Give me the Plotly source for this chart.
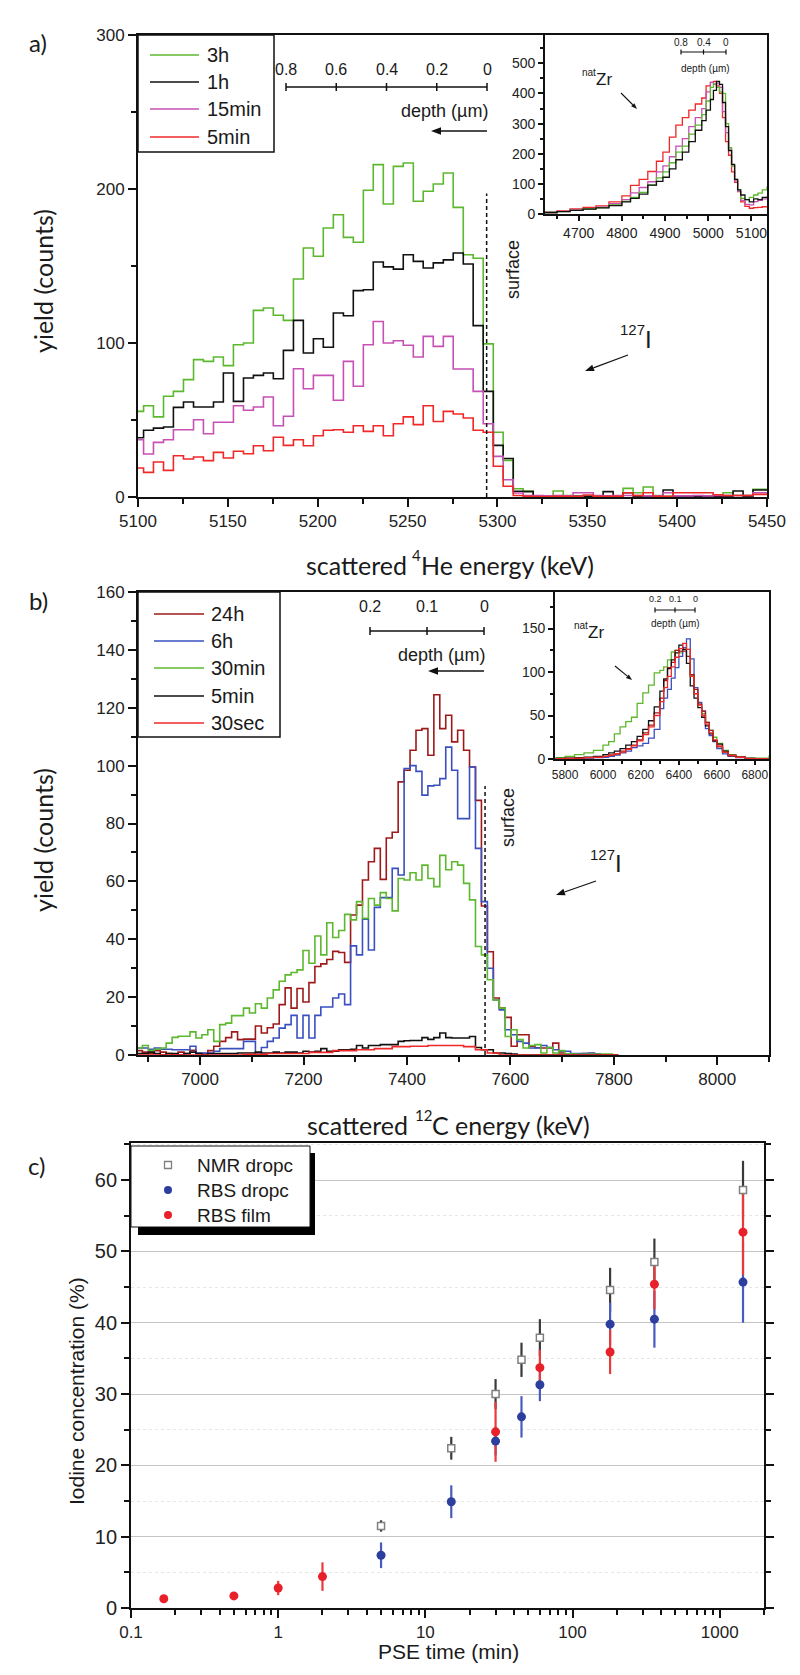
import math
import plotly.graph_objects as go

W, H = 800, 1675

# ---------------- panel a : scattered 4He spectra ----------------
a_energy = [5097.5, 5103.1, 5108.6, 5114.2, 5119.7, 5125.3, 5130.9, 5136.4, 5142.0, 5147.5,
            5153.1, 5158.7, 5164.2, 5169.8, 5175.3, 5180.9, 5186.5, 5192.0, 5197.6, 5203.1,
            5208.7, 5214.3, 5219.8, 5225.4, 5230.9, 5236.5, 5242.1, 5247.6, 5253.2, 5258.7,
            5264.3, 5269.9, 5275.4, 5281.0, 5286.5, 5292.1, 5297.7, 5303.2, 5308.8, 5314.3,
            5319.9, 5325.5, 5331.0, 5336.6, 5342.1, 5347.7, 5353.3, 5358.8, 5364.4, 5369.9,
            5375.5, 5381.1, 5386.6, 5392.2, 5397.7, 5403.3, 5408.9, 5414.4, 5420.0, 5425.5,
            5431.1, 5436.7, 5442.2, 5447.8, 5453.3]
a_3h = [55.6, 59.3, 52, 65.4, 68.6, 76.2, 89.2, 88.1, 90.9, 85.3,
        98.9, 100, 121.2, 122.7, 118, 114.7, 141.6, 161.7, 156.3, 174.7,
        183.3, 168.6, 165.4, 199.2, 215.8, 190.3, 214.7, 216.9, 192, 198.5,
        203.2, 210.4, 188.1, 157.3, 155, 99.4, 42, 23.8, 5.4,
        3.9, 0.6, 0.6, 3.9, 1, 0.5, 0.5, 0.5, 0.5, 0.5, 5.6, 2.8, 6.5, 1,
        0.5, 0.5, 0.5, 0.5, 0.5, 0.5, 2.8, 1, 1, 5, 5, 5]
a_1h = [38.5, 43.3, 44.7, 45.5, 58.2, 61.7, 58.4, 58.4, 61.7, 80.5,
        62.1, 77.3, 79, 80.5, 76.8, 95.2, 114.7, 93.5, 102.8, 97.2,
        119.5, 117.7, 134, 134.6, 152.6, 149.4, 148, 157.3, 153, 148.7,
        152, 154, 158.4, 151.3, 111.3, 68.6, 33.5, 25, 3.7,
        3.5, 0.5, 0.5, 0.5, 0.5, 0.5, 0.5, 0.5, 3.5, 0.5, 2.8, 0.5, 0.5,
        0.5, 4.5, 0.5, 0.5, 0.5, 0.5, 0.5, 0.5, 3.9, 0.5, 4.5, 4.5, 4.5]
a_15min = [37.2, 27.9, 35.5, 37.2, 43.7, 43.7, 50.2, 41.1, 48.5, 48.5,
           59.3, 56.3, 58.4, 64.9, 46.3, 52.4, 83.3, 70.3, 79, 79,
           62.8, 88.1, 71.9, 98.9, 114, 100, 101.5, 98.5, 90.9, 104.3,
           97.8, 104.3, 83.1, 83.1, 68.6, 47.6, 26.4, 11.2, 2.6,
           1, 1, 0.7, 1, 0.7, 2.8, 2.8, 1, 0.7, 1, 1, 1, 0.7,
           0.7, 2.8, 0.7, 0.7, 1, 0.7, 1, 1, 1, 1, 2.8, 2.8, 2.8]
a_5min = [18.8, 16, 22.7, 17.3, 26.8, 24.7, 26, 23.6, 29, 25.3,
          29.7, 28.1, 33.3, 30, 38.8, 33.5, 37.2, 33.3, 39.8, 43.3,
          43.7, 42, 46.3, 42.6, 46.3, 39.8, 47.6, 52, 47, 59.3,
          49, 55.6, 53.9, 51.3, 43.3, 42, 20, 7, 1,
          0.5, 0.3, 0.3, 0.5, 0.5, 0.5, 1.3, 0.5, 0.5, 0.5, 2.8, 1, 2.8,
          0.5, 0.5, 2.8, 2.8, 2.8, 2.8, 1.5, 1, 1, 1, 1.7, 1.7, 1.7]
a_surface = 5294

# inset a : natZr signal
ai_energy = [4622, 4650, 4680, 4710, 4740, 4770, 4800, 4820, 4840, 4860, 4880, 4895,
             4910, 4925, 4940, 4955, 4970, 4985, 4995, 5005, 5012, 5019, 5026, 5033,
             5040, 5047, 5054, 5061, 5068, 5075, 5085, 5095, 5105, 5115, 5125, 5136]
ai_5min = [5, 10, 17, 22, 27, 40, 60, 95, 115, 141, 175, 205, 255, 295, 320, 345, 365, 385,
           425, 437, 440, 425, 400, 320, 240, 195, 140, 105, 74, 40, 25, 19, 21, 22, 24, 25]
ai_15min = [5, 9, 14, 18, 23, 34, 48, 70, 88, 107, 140, 160, 190, 225, 250, 290, 320, 350,
            405, 437, 430, 434, 420, 340, 270, 215, 160, 110, 75, 45, 32, 30, 41, 45, 50, 52]
ai_3h = [5, 8, 12, 17, 21, 30, 42, 55, 72, 96, 120, 140, 170, 205, 225, 265, 295, 330,
         375, 420, 432, 420, 405, 400, 300, 220, 160, 115, 80, 52, 48, 55, 63, 69, 80, 91]
ai_1h = [5, 8, 12, 16, 20, 28, 40, 52, 66, 96, 108, 122, 150, 180, 205, 240, 278, 310,
         345, 380, 410, 440, 430, 370, 290, 210, 165, 115, 80, 63, 48, 40, 50, 48, 55, 58]

# ---------------- panel b : scattered 12C spectra ----------------
b_energy = [6877.0, 6888.5, 6900.0, 6911.5, 6923.0, 6934.5, 6946.0, 6957.5, 6969.0, 6980.5,
            6992.0, 7003.5, 7015.0, 7026.5, 7038.0, 7049.5, 7061.0, 7072.5, 7084.0, 7095.5,
            7107.0, 7118.5, 7130.0, 7141.5, 7153.0, 7164.5, 7176.0, 7187.5, 7199.0, 7210.5,
            7222.0, 7233.5, 7245.0, 7256.5, 7268.0, 7279.5, 7291.0, 7302.5, 7314.0, 7325.5,
            7337.0, 7348.5, 7360.0, 7371.5, 7383.0, 7394.5, 7406.0, 7417.5, 7429.0, 7440.5,
            7452.0, 7463.5, 7475.0, 7486.5, 7498.0, 7509.5, 7521.0, 7532.5, 7544.0, 7555.5,
            7567.0, 7578.5, 7590.0, 7601.5, 7613.0, 7624.5, 7636.0, 7647.5, 7659.0, 7670.5,
            7682.0, 7693.5, 7705.0, 7716.5, 7728.0, 7739.5, 7751.0, 7762.5, 7774.0, 7785.5,
            7797.0, 7808.5]
b_24h = [1.5, 1, 0.5, 1.5, 1, 0.5, 0, 1, 0.5, 1.6,
         0.5, 0.5, 1.5, 3, 4.7, 6, 8, 5.3, 5.5, 5.5,
         10, 7.6, 9.4, 10.7, 17.4, 23.2, 16.2, 23, 18.3, 25,
         30.6, 31.5, 33, 35.8, 35.4, 32, 48.4, 51.8, 60.5, 66.8,
         71.4, 60.7, 75, 77, 94.4, 98.4, 105.3, 112.2, 112.8, 103.6,
         124.5, 112.8, 117.4, 108.2, 112.2, 105.3, 99.5, 88, 51.5, 35.7,
         19.7, 16.2, 13, 3, 7, 7, 3, 2.5, 2.4, 2.4,
         4.1, 0.7, 0.3, 0.3, 0, 0.5, 0.5, 0.3, 0, 0, 0, 0]
b_6h = [2.4, 2.4, 2, 2.4, 2, 2, 1.8, 1.8, 1.8, 3,
        0.7, 0.7, 0.7, 1.3, 2.2, 2.2, 2.2, 2.2, 4.7, 4.7,
        0.7, 2.6, 4.7, 5.9, 9.3, 10.5, 13.7, 5.9, 13.7, 5.9,
        13.7, 16.6, 16.6, 19.7, 21.1, 17.4, 37.7, 34.6, 46.9, 36.3,
        51, 54.4, 54.4, 64.5, 62.2, 99, 100, 98, 89.8, 93,
        93.2, 95.5, 106.4, 98.4, 81.7, 81.7, 99.5, 71.4, 53, 30,
        19, 15.6, 8.7, 7, 4.7, 4.1, 2.4, 2.4, 3.3, 2.6,
        1.8, 1.3, 1.3, 0.5, 0.5, 0.5, 0.7, 0.3, 0, 0, 0, 0]
b_30min = [2.4, 3.3, 1.5, 2, 2.4, 4.1, 6.1, 6.5, 6.5, 8,
           5.9, 7, 8.7, 4.7, 10.5, 11, 13.6, 13.6, 16.2, 14.5,
           17.7, 16.2, 19.7, 22.5, 25.5, 27.7, 28.5, 29.4, 36.1, 31.7,
           41.1, 34.6, 45.7, 40.6, 43, 48.6, 46.7, 53, 47.2, 54.1,
           51.8, 56.1, 54.1, 49.8, 61, 60.5, 63, 60.5, 65.6, 61,
           58.2, 69, 64, 66.8, 65.6, 59.3, 53.6, 37.5, 34.6, 26,
           19, 16.2, 6.4, 8.7, 5.3, 2.4, 3.3, 3.6, 0.7, 2.6,
           0.7, 1.5, 0.4, 0.3, 0.2, 0.2, 0.3, 0.2, 0.3, 0.3, 0, 0]
b_5min = [0.5, 0.5, 1, 0.5, 0, 0.5, 0.5, 0, 0.5, 1,
          0.5, 0, 0.5, 0.5, 0.5, 0.5, 0.5, 0.7, 0.7, 0.7,
          1, 0.7, 0.7, 1, 0.7, 1, 1, 0.7, 1.3, 1,
          1.3, 2.2, 1.3, 1.3, 1.8, 1.8, 2, 3.3, 2.4, 3.3,
          3.3, 3.6, 3.6, 3.6, 4.7, 4.9, 5, 5, 6, 5.4,
          6, 7.6, 6, 5.9, 5.9, 5.9, 6.4, 2.6, 1.8, 1.8,
          0.7, 0.7, 0.5, 0.3, 0, 0, 0, 0, 0, 0,
          0, 0, 0, 0, 0, 0, 0, 0, 0, 0, 0, 0]
b_30sec = [0, 0, 0, 0, 0, 0, 0, 0, 0, 0,
           0, 0, 0, 0, 0, 0, 0, 0, 0.2, 0.2,
           0.2, 0.2, 0.5, 0.5, 0.5, 0.5, 0.5, 0.5, 0.5, 0.9,
           0.9, 0.9, 0.9, 1.5, 1.5, 1.5, 1.5, 1.8, 1.8, 1.8,
           2.2, 2.2, 2.2, 2.9, 2.9, 2.9, 3, 3, 3, 3.3,
           3.3, 3.3, 3.3, 3.3, 3.3, 2.9, 2.9, 1.8, 1.8, 0.7,
           0.7, 0, 0, 0, 0, 0, 0, 0, 0, 0,
           0, 0, 0, 0, 0, 0, 0, 0, 0, 0, 0, 0]
b_surface = 7551

# inset b : natZr signal
bi_energy = [5750, 5800, 5850, 5900, 5950, 6000, 6030, 6060, 6090, 6120, 6150, 6180, 6210,
             6240, 6270, 6300, 6320, 6340, 6360, 6380, 6400, 6420, 6440, 6460, 6480, 6500,
             6520, 6540, 6560, 6580, 6600, 6630, 6660, 6700, 6750, 6800, 6875]
bi_24h = [0.5, 0.7, 1, 1.5, 2, 3, 4.5, 6, 9, 12, 16, 22, 30, 39, 53, 70, 90, 105, 111,
          125, 124, 124, 118, 97, 80, 63, 55, 42, 33, 21, 14, 8, 4, 2, 0.7, 0.3, 0.3]
bi_6h = [0.5, 0.5, 0.8, 1, 1.5, 2, 3, 4.6, 7, 9, 13, 15, 18, 24, 34, 58, 70, 80, 93,
         105, 118, 128, 138, 115, 82, 65, 55, 35, 27, 20, 12, 6, 3, 1.5, 0.5, 0.3, 0.3]
bi_30min = [1.5, 3, 5, 7, 10, 16, 20, 29, 37, 43, 48, 64, 76, 85, 99, 102, 106, 114, 123,
            125, 122, 128, 126, 96, 75, 63, 52, 42, 33, 25, 18, 10, 5, 2.5, 1, 1, 4]
bi_5min = [0.8, 1, 1.5, 2, 3, 5, 7, 9, 12, 16, 20, 26, 34, 44, 60, 78, 92, 104, 114,
           122, 131, 126, 110, 84, 70, 59, 48, 38, 29, 21, 17, 9, 4, 2, 0.8, 0.5, 0.5]
bi_30sec = [0.5, 0.7, 1, 1.5, 2, 3, 4.6, 6, 8, 11, 15, 21, 28, 37, 50, 66, 82, 95, 106,
            117, 127, 133, 126, 95, 75, 62, 50, 40, 30, 22, 15, 8, 4, 2, 0.5, 0.3, 0.3]

# ---------------- panel c : iodine concentration ----------------
c_time = [5, 15, 30, 45, 60, 180, 360, 1440]
c_nmr = [11.5, 22.4, 30.0, 34.8, 37.9, 44.6, 48.5, 58.6]
c_nmr_err = [0.8, 1.6, 2.1, 2.4, 2.6, 3.1, 3.3, 4.1]
c_rbs_drop = [7.4, 14.9, 23.4, 26.8, 31.3, 39.8, 40.5, 45.7]
c_rbs_drop_err = [1.8, 2.3, 2.0, 2.9, 2.3, 3.0, 4.0, 5.7]
c_film_time = [0.167, 0.5, 1, 2, 30, 60, 180, 360, 1440]
c_rbs_film = [1.3, 1.7, 2.8, 4.4, 24.7, 33.7, 35.9, 45.4, 52.7]
c_rbs_film_err = [0.3, 0.3, 1.0, 2.0, 4.2, 2.5, 3.1, 3.5, 6.0]

GREEN, BLACK, MAGENTA, RED = '#5cb82e', '#111111', '#c650b4', '#f02828'
DARKRED, BLUE = '#9e1a1a', '#3a4fc0'
TICKF = 'Liberation Sans, Arial, sans-serif'
TITLEF = 'Lato, Liberation Sans, sans-serif'


def px(x):
    return x / W


def py(y):
    return 1 - y / H


fig = go.Figure()


def spectrum(x, y, color, xa, ya, width=1.6):
    fig.add_trace(go.Scatter(x=x, y=y, mode='lines', xaxis=xa, yaxis=ya,
                             line=dict(shape='hv', color=color, width=width),
                             showlegend=False, hoverinfo='skip'))


for ys, col in [(a_3h, GREEN), (a_1h, BLACK), (a_15min, MAGENTA), (a_5min, RED)]:
    spectrum(a_energy, ys, col, 'x', 'y')
for ys, col in [(ai_5min, RED), (ai_15min, MAGENTA), (ai_3h, GREEN), (ai_1h, BLACK)]:
    spectrum(ai_energy, ys, col, 'x2', 'y2', 1.3)
for ys, col in [(b_24h, DARKRED), (b_6h, BLUE), (b_30min, GREEN), (b_5min, BLACK), (b_30sec, RED)]:
    spectrum(b_energy, ys, col, 'x3', 'y3')
for ys, col in [(bi_30min, GREEN), (bi_6h, BLUE), (bi_24h, DARKRED), (bi_5min, BLACK), (bi_30sec, RED)]:
    spectrum(bi_energy, ys, col, 'x4', 'y4', 1.3)

# panel c: error bars first, markers on top
c_series = [
    (c_time, c_nmr, c_nmr_err, '#3a3a3a'),
    (c_time, c_rbs_drop, c_rbs_drop_err, '#4a5bbf'),
    (c_film_time, c_rbs_film, c_rbs_film_err, '#e83a3a'),
]
for t, v, e, col in c_series:
    fig.add_trace(go.Scatter(x=t, y=v, mode='markers', xaxis='x5', yaxis='y5',
                             marker=dict(size=2, color='rgba(0,0,0,0)'),
                             error_y=dict(type='data', array=e, color=col, thickness=2.2, width=0),
                             showlegend=False, hoverinfo='skip'))
fig.add_trace(go.Scatter(x=c_time, y=c_nmr, mode='markers', xaxis='x5', yaxis='y5',
                         marker=dict(symbol='square', size=7, color='white',
                                     line=dict(color='#808080', width=1.5)),
                         showlegend=False))
fig.add_trace(go.Scatter(x=c_time, y=c_rbs_drop, mode='markers', xaxis='x5', yaxis='y5',
                         marker=dict(symbol='circle', size=9, color='#2c3f9e'),
                         showlegend=False))
fig.add_trace(go.Scatter(x=c_film_time, y=c_rbs_film, mode='markers', xaxis='x5', yaxis='y5',
                         marker=dict(symbol='circle', size=9, color='#e8202a'),
                         showlegend=False))


def frame(size=17, ticklen=8, mticklen=5, **kw):
    d = dict(showline=True, linecolor='#111', linewidth=1.8, mirror=True,
             ticks='outside', ticklen=ticklen, tickwidth=1.5, tickcolor='#111',
             showgrid=False, zeroline=False, automargin=False,
             tickfont=dict(family=TICKF, size=size, color='#222'))
    if 'minor_dtick' in kw:
        d['minor'] = dict(dtick=kw.pop('minor_dtick'), ticks='outside', ticklen=mticklen,
                          tickwidth=1.5, tickcolor='#111')
    d.update(kw)
    return d


layout = dict(
    width=W, height=H, autosize=False, margin=dict(l=0, r=0, t=0, b=0, pad=0),
    paper_bgcolor='white', plot_bgcolor='rgba(0,0,0,0)', showlegend=False,
    xaxis=frame(domain=[px(130), px(759)], range=[5100, 5450], dtick=50, minor_dtick=25, anchor='y'),
    yaxis=frame(domain=[py(489), py(27)], range=[0, 300], dtick=100, minor_dtick=50, anchor='x'),
    xaxis2=frame(size=14, ticklen=5, mticklen=3, domain=[px(537), px(759)], range=[4622, 5136],
                 dtick=100, minor_dtick=50, anchor='y2'),
    yaxis2=frame(size=14, ticklen=5, mticklen=3, domain=[py(206), py(27)], range=[0, 594],
                 dtick=100, minor_dtick=50, anchor='x2'),
    xaxis3=frame(domain=[px(130), px(761)], range=[6880, 8100], dtick=200, minor_dtick=100, anchor='y3'),
    yaxis3=frame(domain=[py(1047), py(584)], range=[0, 160], dtick=20, minor_dtick=10, anchor='x3'),
    xaxis4=frame(size=12, ticklen=4, mticklen=3, domain=[px(547), px(761)], range=[5747, 6875],
                 dtick=200, minor_dtick=100, anchor='y4'),
    yaxis4=frame(size=14, ticklen=5, mticklen=3, domain=[py(751), py(584)], range=[0, 192],
                 dtick=50, minor_dtick=25, anchor='x4'),
    xaxis5=frame(domain=[px(123), px(756)], type='log', range=[-1, 3.301], anchor='y5',
                 tickvals=[0.1, 1, 10, 100, 1000], ticktext=['0.1', '1', '10', '100', '1000'],
                 minor=dict(tickvals=[0.2, 0.3, 0.4, 0.5, 0.6, 0.7, 0.8, 0.9,
                                      2, 3, 4, 5, 6, 7, 8, 9, 20, 30, 40, 50, 60, 70, 80, 90,
                                      200, 300, 400, 500, 600, 700, 800, 900, 2000],
                            ticks='outside', ticklen=5, tickwidth=1.5, tickcolor='#111')),
    yaxis5=frame(size=20, domain=[py(1600), py(1135)], range=[0, 65.2], dtick=10, anchor='x5',
                 mirror='ticks', showgrid=True, gridcolor='#c4c4c4', gridwidth=1.3,
                 minor=dict(dtick=5, ticks='outside', ticklen=5, tickwidth=1.5, tickcolor='#111',
                            showgrid=True, gridcolor='#e6e6e6', griddash='dot', gridwidth=1)),
)

shapes = []
ann = []


def P(x, y):
    return '%.5f %.5f' % (px(x), py(y))


def line(x0, y0, x1, y1, width=1.5, color='#111', dash=None):
    d = dict(type='line', xref='paper', yref='paper', x0=px(x0), y0=py(y0), x1=px(x1), y1=py(y1),
             line=dict(color=color, width=width))
    if dash:
        d['line']['dash'] = dash
    shapes.append(d)


def text(x, y, s, size, xanchor='center', family=TICKF, angle=0):
    ann.append(dict(x=px(x), y=py(y), xref='paper', yref='paper', text=s, showarrow=False,
                    xanchor=xanchor, yanchor='middle', textangle=angle,
                    borderpad=0, borderwidth=0,
                    font=dict(family=family, size=size, color='#1a1a1a')))


def sup_text(x, y, sup, base, size, sup_size, family=TICKF, rise=None):
    # superscript drawn as its own label just left of the base text starting at x
    if rise is None:
        rise = size * 0.38
    text(x, y - rise, sup, sup_size, xanchor='right', family=family)
    text(x, y, base, size, xanchor='left', family=family)


def arrow(xh, yh, xt, yt, width=1.3, head=8):
    # shaft plus filled triangular head, all in page pixels
    L = math.hypot(xh - xt, yh - yt)
    ux, uy = (xh - xt) / L, (yh - yt) / L
    bx, by = xh - ux * head, yh - uy * head
    line(xt, yt, bx, by, width)
    hw = head * 0.38
    shapes.append(dict(type='path', xref='paper', yref='paper',
                       path='M %s L %s L %s Z' % (P(xh, yh), P(bx - uy * hw, by + ux * hw),
                                                  P(bx + uy * hw, by - ux * hw)),
                       fillcolor='#111', line=dict(width=0)))


def depth_scale(x0, x1, y, labels, size, lab_dy, tick=4, width=1.5):
    line(x0, y, x1, y, width)
    n = len(labels)
    for i, lab in enumerate(labels):
        xx = x0 + (x1 - x0) * i / (n - 1)
        line(xx, y - tick, xx, y + tick, width)
        text(xx, y - lab_dy, lab, size)


def legend_box(x0, y0, x1, y1, items, lx0, lx1, tx, size):
    shapes.append(dict(type='rect', xref='paper', yref='paper', x0=px(x0), y0=py(y1),
                       x1=px(x1), y1=py(y0), line=dict(color='#111', width=1.5),
                       fillcolor='white'))
    for yy, name, col in items:
        line(lx0, yy, lx1, yy, 1.6, col)
        text(tx, yy, name, size, xanchor='left')


# dashed surface lines (data coords)
shapes.append(dict(type='line', xref='x', yref='y', x0=a_surface, x1=a_surface, y0=0, y1=197,
                   line=dict(color='#111', width=1.5, dash='4px,3px')))
shapes.append(dict(type='line', xref='x3', yref='y3', x0=b_surface, x1=b_surface, y0=0, y1=93,
                   line=dict(color='#111', width=1.5, dash='4px,3px')))

# panel a decorations
legend_box(130, 27, 266, 144, [(47, '3h', GREEN), (74, '1h', BLACK), (101, '15min', MAGENTA),
                               (129, '5min', RED)], 142, 191, 199, 20)
depth_scale(278, 479, 79, ['0.8', '0.6', '0.4', '0.2', '0'], 16, 18)
text(480, 103, 'depth (µm)', 18, xanchor='right')
arrow(423, 123, 479, 123, 1.5, 10)
text(505, 262, 'surface', 18, angle=-90)
sup_text(637, 331, '127', 'I', 24, 15, rise=9)
arrow(577, 363, 620, 347, 1.2, 9)
depth_scale(673, 718, 44, ['0.8', '0.4', '0'], 10, 10, 2.5, 1.2)
text(697, 60, 'depth (µm)', 10)
sup_text(588, 72, 'nat', 'Zr', 17, 10, rise=7)
arrow(629, 101, 613, 85, 1.1, 6)
text(30, 35, 'a)', 24, family=TITLEF)
text(35, 273, 'yield (counts)', 25, family=TITLEF, angle=-90)
text(399, 557, 'scattered', 25, xanchor='right', family=TITLEF)
text(408, 547, '4', 15, family=TITLEF)
text(413, 557, 'He energy (keV)', 25, xanchor='left', family=TITLEF)

# panel b decorations
legend_box(130, 584, 272, 729, [(606, '24h', DARKRED), (633, '6h', BLUE), (660, '30min', GREEN),
                                (688, '5min', BLACK), (715, '30sec', RED)], 146, 196, 203, 20)
depth_scale(362, 476, 623, ['0.2', '0.1', '0'], 16, 24)
text(477, 647, 'depth (µm)', 18, xanchor='right')
arrow(420, 663, 476, 663, 1.5, 10)
text(500, 810, 'surface', 18, angle=-90)
sup_text(607, 855, '127', 'I', 24, 15, rise=9)
arrow(548, 887, 588, 873, 1.2, 9)
depth_scale(647, 687, 602, ['0.2', '0.1', '0'], 9, 11, 2.5, 1.2)
text(667, 615, 'depth (µm)', 10)
sup_text(580, 624, 'nat', 'Zr', 17, 10, rise=7)
arrow(624, 672, 607, 658, 1.1, 6)
text(30, 592, 'b)', 24, family=TITLEF)
text(35, 832, 'yield (counts)', 25, family=TITLEF, angle=-90)
text(400, 1117, 'scattered', 25, xanchor='right', family=TITLEF)
text(415, 1107, '12', 15, family=TITLEF)
text(424, 1117, 'C energy (keV)', 25, xanchor='left', family=TITLEF)

# panel c decorations: shadowed legend
shapes.append(dict(type='rect', xref='paper', yref='paper', x0=px(130), y0=py(1227),
                   x1=px(307), y1=py(1145), line=dict(width=0), fillcolor='#000'))
shapes.append(dict(type='rect', xref='paper', yref='paper', x0=px(123), y0=py(1219),
                   x1=px(302), y1=py(1138), line=dict(color='#111', width=1), fillcolor='white'))
shapes.append(dict(type='rect', xref='paper', yref='paper', x0=px(156.5), y0=py(1160.5),
                   x1=px(163.5), y1=py(1153.5), line=dict(color='#808080', width=1.3),
                   fillcolor='white'))
for yy, col in [(1182, '#2c3f9e'), (1207, '#e8202a')]:
    shapes.append(dict(type='circle', xref='paper', yref='paper', x0=px(156), y0=py(yy + 4),
                       x1=px(164), y1=py(yy - 4), line=dict(width=0), fillcolor=col))
text(189, 1157, 'NMR dropc', 19, xanchor='left')
text(189, 1182, 'RBS dropc', 19, xanchor='left')
text(189, 1207, 'RBS film', 19, xanchor='left')
text(28, 1157, 'c)', 24, family=TITLEF)
text(68, 1383, 'Iodine concentration (%)', 21, angle=-90)
text(440, 1643, 'PSE time (min)', 21)

layout['shapes'] = shapes
layout['annotations'] = ann
fig.update_layout(**layout)
fig.write_html('out.html')
